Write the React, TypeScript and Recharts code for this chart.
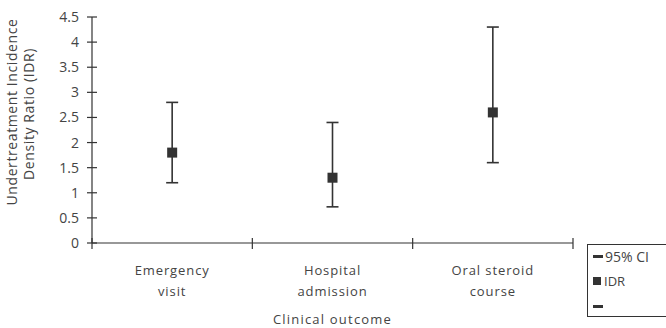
import React from "react";
import {
  ComposedChart, Scatter, ErrorBar, XAxis, YAxis,
} from "recharts";

const categories = ["Emergency visit", "Hospital admission", "Oral steroid course"];
const categoryLines = [["Emergency", "visit"], ["Hospital", "admission"], ["Oral steroid", "course"]];
const idr = [1.8, 1.3, 2.6];
const ciLow = [1.2, 0.72, 1.6];
const ciHigh = [2.8, 2.4, 4.3];
const yTicks = [0, 0.5, 1, 1.5, 2, 2.5, 3, 3.5, 4, 4.5];

const data = categories.map((name, i) => ({
  name,
  x: i + 0.5,
  idr: idr[i],
  ci: [idr[i] - ciLow[i], ciHigh[i] - idr[i]],
}));

const INK = "#333";
const TEXT = "#444";
const FONT = "'Open Sans', sans-serif";

function YTick(props: any) {
  const { x, y, payload } = props;
  return (
    <g>
      <line x1={x - 5} x2={x + 5} y1={y} y2={y} stroke={INK} strokeWidth={1.2} />
      <text x={x - 13} y={y} dy={5} textAnchor="end" fontSize={14} fill={TEXT} fontFamily={FONT}>
        {payload.value}
      </text>
    </g>
  );
}

function XTick(props: any) {
  const { x, y, payload } = props;
  const v = payload.value;
  if (Number.isInteger(v)) {
    return <line x1={x} x2={x} y1={y - 5} y2={y + 6} stroke={INK} strokeWidth={1.2} />;
  }
  const lines = categoryLines[Math.floor(v)];
  return (
    <g>
      {lines.map((t, i) => (
        <text key={i} x={x} y={y + 32 + i * 21} textAnchor="middle" fontSize={13} letterSpacing={0.9}
          fill={TEXT} fontFamily={FONT}>{t}</text>
      ))}
    </g>
  );
}

function Square(props: any) {
  const { cx, cy } = props;
  return <rect x={cx - 5} y={cy - 5} width={10} height={10} fill={INK} />;
}

function LegendBox() {
  return (
    <div style={{ position: "absolute", left: 587, top: 244, border: `1.5px solid ${INK}`, borderRight: "none",
      height: 73, width: 90, boxSizing: "border-box", fontFamily: FONT, fontSize: 13, color: TEXT }}>
      <div style={{ position: "absolute", left: 5, top: 2, display: "flex", alignItems: "center" }}>
        <span style={{ display: "inline-block", width: 10, height: 3, background: INK, marginRight: 2 }} />
        <span style={{ fontSize: 14 }}>95% CI</span>
      </div>
      <div style={{ position: "absolute", left: 5, top: 27, display: "flex", alignItems: "center" }}>
        <span style={{ display: "inline-block", width: 8, height: 8, background: INK, marginRight: 3 }} />
        <span>IDR</span>
      </div>
      <div style={{ position: "absolute", left: 5, top: 60 }}>
        <span style={{ display: "block", width: 10, height: 3, background: INK }} />
      </div>
    </div>
  );
}

export default function App() {
  return (
    <div style={{ position: "absolute", left: 0, top: 0, width: 666, height: 328, background: "#fff" }}>
      <ComposedChart width={666} height={328} data={data} margin={{ top: 17, right: 93, left: 0, bottom: 0 }}>
        <XAxis
          dataKey="x" type="number" domain={[0, 3]} ticks={[0, 0.5, 1, 1.5, 2, 2.5, 3]}
          height={85} tickLine={false} tickSize={0} tickMargin={0}
          axisLine={{ stroke: INK, strokeWidth: 1.2 }} tick={<XTick />} interval={0}
          label={{ value: "Clinical  outcome", position: "insideBottom", offset: 4, fill: TEXT, fontSize: 13,
            fontFamily: FONT, letterSpacing: 1.2 } as any}
        />
        <YAxis
          type="number" domain={[0, 4.5]} ticks={yTicks} width={92} tickLine={false} tickSize={0} tickMargin={0}
          axisLine={{ stroke: INK, strokeWidth: 1.2 }} tick={<YTick />} interval={0}
          label={{
            content: () => (
              <g fontFamily={FONT} fontSize={14} fill={TEXT} letterSpacing={0.6}>
                <text transform="translate(17,112) rotate(-90)" textAnchor="middle">Undertreatment Incidence</text>
                <text transform="translate(34,114) rotate(-90)" textAnchor="middle">Density Ratio (IDR)</text>
              </g>
            ),
          } as any}
        />
        <Scatter dataKey="idr" name="IDR" shape={<Square />} isAnimationActive={false}>
          <ErrorBar dataKey="ci" width={6} stroke={INK} strokeWidth={1.6} direction="y" />
        </Scatter>
      </ComposedChart>
      <LegendBox />
    </div>
  );
}
